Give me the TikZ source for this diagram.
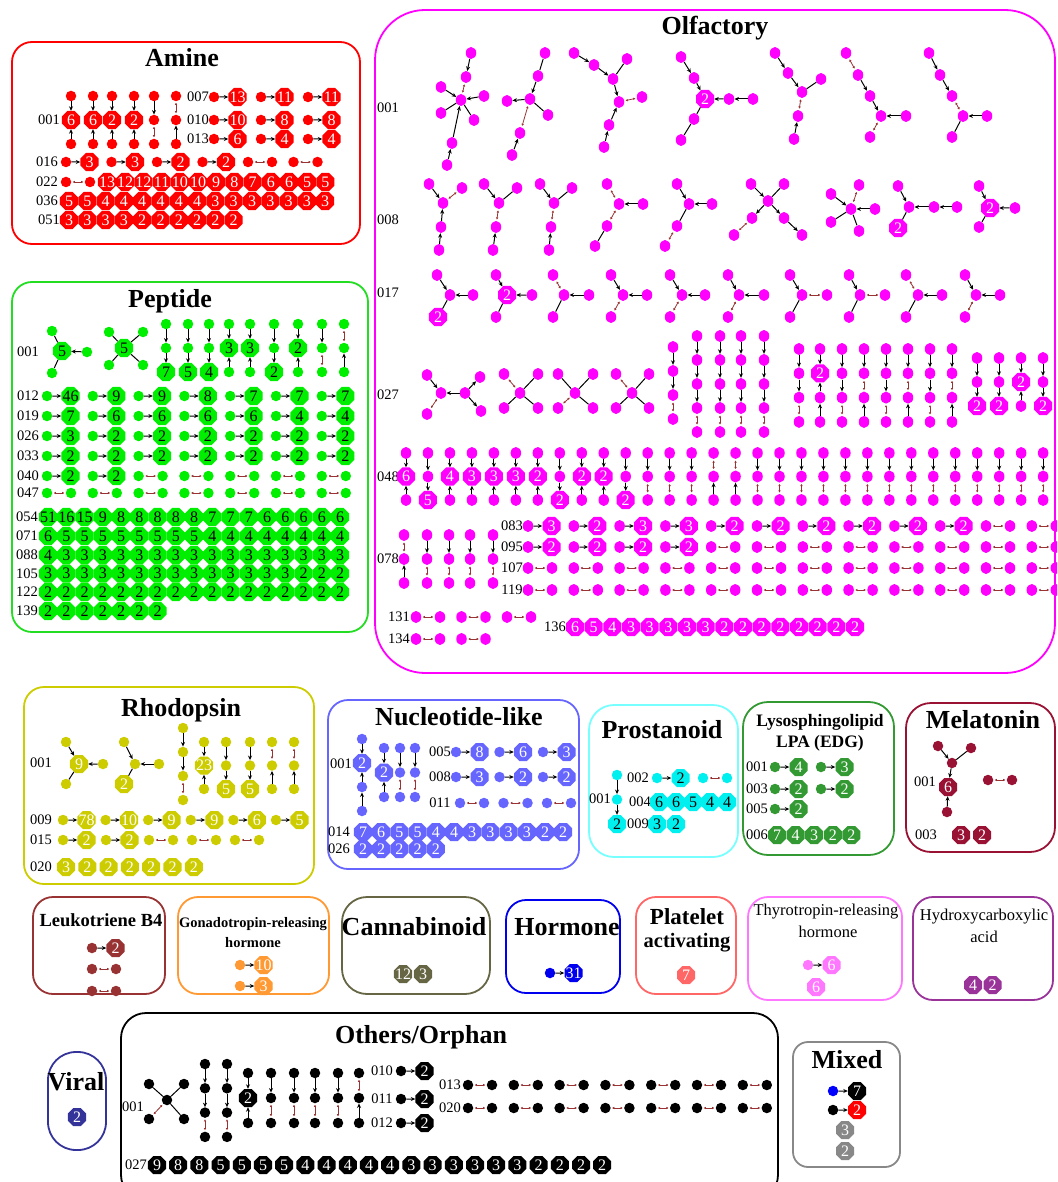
\documentclass[tikz,border=0pt]{standalone}
\usepackage{fontspec}
\setmainfont{Liberation Serif}
\usetikzlibrary{shapes.geometric,arrows.meta}
\definecolor{cAmi}{HTML}{FF0000}
\definecolor{cPep}{HTML}{00EE00}
\definecolor{bPep}{HTML}{22DD22}
\definecolor{cOlf}{HTML}{FF00FF}
\definecolor{cRho}{HTML}{CCCC00}
\definecolor{cNuc}{HTML}{6666FF}
\definecolor{cPro}{HTML}{00F0F0}
\definecolor{bPro}{HTML}{77FFFF}
\definecolor{cLPA}{HTML}{339933}
\definecolor{cMel}{HTML}{991133}
\definecolor{cLeu}{HTML}{993333}
\definecolor{cGon}{HTML}{FF9933}
\definecolor{cCan}{HTML}{666644}
\definecolor{cHor}{HTML}{0000EE}
\definecolor{cPla}{HTML}{FF6666}
\definecolor{cThy}{HTML}{FF77FF}
\definecolor{cHyd}{HTML}{993399}
\definecolor{cVir}{HTML}{333399}
\definecolor{cMix}{HTML}{888888}
\definecolor{rdc}{HTML}{993333}
\colorlet{gc}{black}
\colorlet{tc}{white}
\newcommand\ocfont{\fontsize{16}{16}\selectfont}
\newcommand\nd[4]{\if o#4\node[dt] (#1) at ({#2},{#3}) {};\else\node[oc] (#1) at ({#2},{#3}) {\makebox[0pt]{#4}};\fi}
\newcommand\ed[3]{\if d#1\draw[eb] (#2)--(#3);\fi\if u#1\draw[eb] (#3)--(#2);\fi\if r#1\draw[er] (#2)--(#3);\fi\if l#1\draw[el] (#2)--(#3);\fi}
\newcommand\chain[6]{%
 \foreach \cl [count=\ci] in {#5}{\nd{#1-\ci}{#2}{#3+(\ci-1)*(#4)}{\cl}}%
 \foreach \ce [count=\ci] in {#6}{\pgfmathtruncatemacro\cj{\ci+1}\ed{\ce}{#1-\ci}{#1-\cj}}}
\newcommand\G[3]{\foreach \gn/\gx/\gy/\gl in {#2}{\nd{#1\gn}{\gx}{\gy}{\gl}}\foreach \ga/\gb/\gt in {#3}{\ed{\gt}{#1\ga}{#1\gb}}}
\newcommand\mixrow[5]{%
 \foreach \mv [count=\mi] in {#5}{%
  \pgfmathsetmacro\mx{#2+(\mi-1)*(#4)}%
  \if r\mv
   \node[dt] (#1-\mi a) at (\mx,#3) {};
   \node[dt] (#1-\mi b) at ({\mx+24},#3) {};
   \draw[er] (#1-\mi a) -- (#1-\mi b);
  \else
   \node[dt] (#1-\mi a) at (\mx,#3) {};
   \node[oc] (#1-\mi b) at ({\mx+23.5},#3) {\makebox[0pt]{\mv}};
   \draw[eb] (#1-\mi a) -- (#1-\mi b);
  \fi}}
\newcommand\orow[5]{\foreach \ov [count=\oi] in {#5}{\node[oc] (#1-\oi) at ({#2+(\oi-1)*(#4)},#3) {\makebox[0pt]{\ov}};}}
\newcommand\lab[4]{\node[lb] (#1) at (#2,#3) {#4};}
\begin{document}
\begin{tikzpicture}[x=1pt,y=-1pt,
 dt/.style={circle, fill=gc, inner sep=0pt, minimum size=10.5pt},
 oc/.style={regular polygon, regular polygon sides=8, fill=gc, inner sep=0pt, minimum size=19.5pt, text=tc, font=\ocfont},
 eb/.style={-{Stealth[length=4.5pt,width=4pt]}, line width=1pt, black},
 el/.style={line width=1pt, black},
 er/.style={{Latex[length=2.2pt,width=2.6pt]}-{Latex[length=2.2pt,width=2.6pt]}, line width=0.8pt, rdc, shorten <=1.2pt, shorten >=1.2pt},
 lb/.style={font=\fontsize{14.5}{15}\selectfont, inner sep=0pt},
 tt/.style={font=\fontsize{26}{28}\selectfont\bfseries, inner sep=0pt},
 bx/.style={draw=#1, line width=1.8pt, rounded corners=20pt}]
\useasboundingbox (0,0) rectangle (1057,1182);
\clip (0,0) rectangle (1057,1182);

% ---------------- AMINE
\begin{scope}
\colorlet{gc}{cAmi}\colorlet{tc}{white}
\draw[bx=cAmi] (12,42) rectangle (360,244);
\node[tt] (tAmi) at (182,58) {Amine};
\lab{am001}{49}{120}{001}\lab{am007}{198}{97}{007}\lab{am010}{198}{120}{010}\lab{am013}{198}{139}{013}
\lab{am016}{47}{162}{016}\lab{am022}{47}{182}{022}\lab{am036}{47}{201}{036}\lab{am051}{49}{220}{051}
\chain{amA}{71}{96}{24}{o,6,o}{d,u}
\chain{amB}{93}{96}{24}{o,6,o}{d,u}
\chain{amC}{112}{96}{24}{o,2,o}{d,u}
\chain{amD}{134}{96}{24}{o,2,o}{d,u}
\chain{amE}{154}{96}{24}{o,o,o}{d,r}
\chain{amF}{176}{96}{24}{o,o,o}{r,u}
\mixrow{am7}{214}{97}{47}{13,11,11}
\mixrow{am10}{214}{120}{47}{10,8,8}
\mixrow{am13}{214}{139}{47}{6,4,4}
\mixrow{am16}{66}{162}{45.5}{3,3,2,2,r,r}
\mixrow{am22}{66}{182}{46}{r}
\orow{am22o}{107}{182}{18.2}{13,12,12,11,10,10,9,8,7,6,6,5,5}
\orow{am36}{69}{201}{18.3}{5,5,4,4,4,4,4,4,3,3,3,3,3,3,3}
\orow{am51}{69}{220}{18.3}{3,3,3,3,2,2,2,2,2,2}
\end{scope}

% ---------------- PEPTIDE
\begin{scope}
\colorlet{gc}{cPep}\colorlet{tc}{black}
\draw[bx=bPep] (12,282) rectangle (368,632);
\node[tt] (tPep) at (170,301) {Peptide};
\lab{pp001}{28}{352}{001}\lab{pp012}{28}{396}{012}\lab{pp019}{28}{416}{019}\lab{pp026}{28}{436}{026}
\lab{pp033}{28}{456}{033}\lab{pp040}{28}{476}{040}\lab{pp047}{28}{493}{047}\lab{pp054}{27}{517}{054}
\lab{pp071}{27}{536}{071}\lab{pp088}{27}{555}{088}\lab{pp105}{27}{573.5}{105}\lab{pp122}{27}{592}{122}\lab{pp139}{27}{611}{139}
\G{ppS}{c/62/351/5, a/52/331/o, b/52/373/o, d/87/352/o}{a/c/l, b/c/l, d/c/d}
\G{ppT}{c/124/348/5, a/109/332/o, b/143/332/o, e/109/365/o, f/143/365/o}{a/c/l, b/c/l, e/c/l, f/c/l}
\chain{ppA}{166}{324}{24}{o,o,7}{d,d}
\chain{ppB}{188}{324}{24}{o,o,5}{d,d}
\chain{ppC}{209}{324}{24}{o,o,4}{d,d}
\chain{ppD}{229}{324}{24}{o,3,o}{d,u}
\chain{ppE}{250}{324}{24}{o,3,o}{d,u}
\chain{ppF}{274}{324}{24}{o,o,2}{d,d}
\chain{ppG}{298}{324}{24}{o,2,o}{d,u}
\chain{ppH}{322}{324}{24}{o,o,o}{d,r}
\chain{ppI}{344}{324}{24}{o,o,o}{r,u}
\mixrow{pp12}{47}{396}{45.8}{46,9,9,8,7,7,7}
\mixrow{pp19}{47}{416}{45.8}{7,6,6,6,6,4,4}
\mixrow{pp26}{47}{436}{45.8}{3,2,2,2,2,2,2}
\mixrow{pp33}{47}{456}{45.8}{2,2,2,2,2,2,2}
\mixrow{pp40}{47}{476}{45.8}{2,2,r,r,r,r,r}
\mixrow{pp47}{47}{493}{45.8}{r,r,r,r,r,r,r}
\orow{pp54}{48}{517}{18.25}{51,16,15,9,8,8,8,8,8,7,7,7,6,6,6,6,6}
\orow{pp71}{48}{536}{18.25}{6,5,5,5,5,5,5,5,5,4,4,4,4,4,4,4,4}
\orow{pp88}{48}{555}{18.25}{4,3,3,3,3,3,3,3,3,3,3,3,3,3,3,3,3}
\orow{pp105}{48}{573.5}{18.25}{3,3,3,3,3,3,3,3,3,3,3,3,3,3,2,2,2}
\orow{pp122}{48}{592}{18.25}{2,2,2,2,2,2,2,2,2,2,2,2,2,2,2,2,2}
\orow{pp139}{48}{611}{18.25}{2,2,2,2,2,2,2}
\end{scope}

% ---------------- OLFACTORY
\begin{scope}[dt/.style={ellipse, fill=gc, inner sep=0pt, minimum width=10.5pt, minimum height=12pt}]
\colorlet{gc}{cOlf}\colorlet{tc}{white}
\draw[bx=cOlf, rounded corners=50pt] (375,10) rectangle (1055,673);
\node[tt] (tOlf) at (715,28) {Olfactory};
\lab{ol001}{388}{108}{001}\lab{ol008}{388}{220}{008}\lab{ol017}{388}{293}{017}\lab{ol027}{388}{395}{027}
\lab{ol048}{388}{477}{048}\lab{ol078}{388}{559}{078}\lab{ol083}{512}{526}{083}\lab{ol095}{512}{547}{095}
\lab{ol107}{512}{568}{107}\lab{ol119}{512}{590}{119}\lab{ol131}{399}{617}{131}\lab{ol134}{399}{639}{134}\lab{ol136}{555}{627}{136}
% row 001
\G{olA}{c/461/100/o, n1/471/53/o, n2/466/77/o, n3/441/87/o, n4/484/96/o, n5/441/113/o, n6/474/120/o, n7/452/143/o, n8/447/165/o}
 {n1/n2/d, n2/c/r, n3/c/d, n4/c/d, n5/c/l, n6/c/l, n7/c/d, n8/n7/d}
\G{olB}{c/530/99/o, n1/545/53/o, n2/538/76/o, n3/507/101/o, n4/548/115/o, n5/520/133/o, n6/512/155/o}
 {n1/n2/l, n2/c/d, c/n3/d, n4/c/l, n5/c/r, n6/n5/d}
\G{olC}{n1/574/53/o, n2/594/65/o, c/613/79/o, n3/627/59/o, m/619/102/o, n4/642/97/o, n5/609/125/o, n6/604/147/o}
 {n1/n2/d, n2/c/d, n3/c/l, c/m/d, n4/m/r, n5/m/d, n6/n5/d}
\G{olD}{c/705/99/2, n1/681/57/o, n2/694/78/o, n3/729/99/o, n4/753/99/o, n5/694/119/o, n6/681/140/o}
 {n1/n2/d, n2/c/d, n4/n3/d, n3/c/d, n5/c/l, n6/n5/l}
\G{olE}{n1/775/53/o, n2/788/73/o, c/802/92/o, n3/821/79/o, n4/798/116/o, n5/794/139/o}
 {n1/n2/d, n2/c/d, n3/c/l, n4/c/r, n5/n4/d}
\G{olF}{n1/846/53/o, n2/858/75/o, n3/870/96/o, c/881/116/o, n4/906/116/o, n5/870/137/o}
 {n1/n2/r, n2/n3/d, n3/c/d, n4/c/d, n5/c/r}
\G{olG}{n1/929/53/o, n2/940/75/o, n3/952/96/o, c/963/116/o, n4/987/116/o, n5/952/137/o}
 {n1/n2/d, n2/n3/d, n3/c/r, n4/c/d, n5/c/l}
% row 008
\G{olH}{n1/429/184/o, n2/462/188/o, c/443/203/o, n3/441/227/o, n4/439/250/o}{n1/c/d, n2/c/r, n3/c/d, n4/n3/d}
\G{olI}{n1/484/184/o, n2/517/188/o, c/499/203/o, n3/496/227/o, n4/493/250/o}{n1/c/d, n2/c/l, c/n3/r, n4/n3/d}
\G{olJ}{n1/540/184/o, n2/572/188/o, c/554/203/o, n3/551/227/o, n4/549/250/o}{n1/c/d, n2/c/l, c/n3/r, n4/n3/d}
\G{olK}{n1/607/184/o, c/619/204/o, n2/643/204/o, n3/607/226/o, n4/595/246/o}{n1/c/r, n2/c/d, c/n3/r, n4/n3/l}
\G{olL}{n1/677/184/o, c/689/204/o, n2/712/204/o, n3/677/226/o, n4/665/246/o}{n1/c/d, n2/c/d, c/n3/l, n4/n3/r}
\G{olM}{c/768/201/o, n1/751/184/o, n2/784/184/o, n3/752/218/o, n4/734/235/o, n5/784/218/o, n6/802/235/o}
 {n1/c/d, n2/c/l, c/n3/d, n4/n3/r, c/n5/d, n5/n6/d}
\G{olN}{c/851/209/o, n1/859/185/o, n2/831/194/o, n3/875/209/o, n4/831/222/o, n5/859/231/o}{n1/c/r, n2/c/d, n3/c/d, n4/c/l, n5/c/l}
\G{olO}{n1/898/186/o, c/909/207/o, n2/934/207/o, n3/957/207/o, n4/898/228/2}{n1/c/d, n3/n2/d, n2/c/d, c/n4/l}
\G{olP}{n1/979/186/o, c/990/208/2, n2/1015/208/o, n3/979/227/o}{n1/c/d, n2/c/d, n3/c/l}
% row 017
\G{olQ}{t/437/275/o, c/450/295/o, r/473/295/o, b/438/317/2}{t/c/d, r/c/d, b/c/l}
\G{olR}{t/496/275/o, c/507/295/2, r/532/295/o, b/496/317/o}{t/c/d, r/c/d, b/c/l}
\G{olS}{t/553/275/o, c/564/295/o, r/589/295/o, b/553/317/o}{t/c/r, r/c/d, b/c/l}
\G{olT}{t/611/275/o, c/623/295/o, r/647/295/o, b/611/317/o}{t/c/d, r/c/d, b/c/r}
\G{olU}{t/670/275/o, c/682/295/o, r/705/295/o, b/670/317/o}{t/c/d, r/c/d, b/c/r}
\G{olV}{t/728/275/o, c/739/295/o, r/764/295/o, b/728/317/o}{t/c/d, r/c/d, b/c/r}
\G{olW}{t/790/275/o, c/802/295/o, r/827/295/o, b/790/317/o}{t/c/d, c/r/r, b/c/l}
\G{olX}{t/849/275/o, c/860/295/o, r/885/295/o, b/849/317/o}{t/c/d, c/r/r, b/c/l}
\G{olY}{t/906/275/o, c/918/295/o, r/942/295/o, b/906/317/o}{t/c/r, r/c/d, b/c/l}
\G{olZ}{t/965/275/o, c/976/295/o, r/1000/295/o, b/965/317/o}{t/c/d, r/c/d, b/c/r}
% row 027
\G{olAA}{lc/441/393/o, rc/465/393/o, a/427/375/o, b/427/414/o, e/480/377/o, f/481/411/o}{a/lc/d, lc/b/r, rc/lc/d, rc/e/d, rc/f/d}
\G{olAB}{c/520/393/o, a/504/374/o, b/538/374/o, e/504/408/o, f/538/408/o}{a/c/r, b/c/l, e/c/l, f/c/l}
\G{olAC}{c/575/393/o, a/558/374/o, b/593/374/o, e/558/408/o, f/593/408/o}{a/c/l, b/c/l, e/c/r, f/c/l}
\G{olAD}{c/632/393/o, a/616/374/o, b/649/374/o, e/616/408/o, f/649/408/o}{a/c/r, b/c/l, e/c/l, f/c/l}
\chain{olCa}{673}{347}{24}{o,o,o,o}{d,d,r}
\foreach \x [count=\i] in {697,720,741,764}{\chain{olCb\i}{\x}{336}{24}{o,o,o,o,o}{d,d,d,r}}
\chain{olBa}{799}{349}{24.3}{o,o,o,o}{d,d,r}
\chain{olBb}{820}{349}{24.3}{o,2,o,o}{d,u,u}
\chain{olBc}{842}{349}{24.3}{o,o,o,o}{d,d,r}
\chain{olBd}{864}{349}{24.3}{o,o,o,o}{d,r,u}
\chain{olBe}{886}{349}{24.3}{o,o,o,o}{d,d,r}
\chain{olBf}{908}{349}{24.3}{o,o,o,o}{d,r,u}
\chain{olBg}{930}{349}{24.3}{o,o,o,o}{d,d,r}
\chain{olBh}{952}{349}{24.3}{o,o,o,o}{d,r,u}
\chain{olDa}{977}{358}{24}{o,o,2}{d,d}
\chain{olDb}{999}{358}{24}{o,o,2}{d,d}
\chain{olDc}{1021}{358}{24}{o,2,o}{d,u}
\chain{olDd}{1043}{358}{24}{o,o,2}{d,d}
% row 048
\foreach \la/\lb/\lc/\ea/\eb [count=\i] in {o/6/o/d/u, o/o/5/d/d, o/4/o/d/u, o/3/o/d/u, o/3/o/d/u, o/3/o/d/u, o/2/o/d/u, o/o/2/d/d, o/2/o/d/u, o/2/o/d/u, o/o/2/d/d, o/o/o/d/r, o/o/o/d/r, o/o/o/d/r, o/o/o/r/u, o/o/o/r/u, o/o/o/d/r, o/o/o/d/r, o/o/o/d/r, o/o/o/d/r, o/o/o/d/r, o/o/o/d/r, o/o/o/d/r, o/o/o/d/r, o/o/o/d/r, o/o/o/d/r, o/o/o/d/r, o/o/o/d/r, o/o/o/d/r, o/o/o/d/r}
 {\chain{olE\i}{406+(\i-1)*21.97}{453}{23.5}{\la,\lb,\lc}{\ea,\eb}}
% row 078
\chain{olG0}{404}{535}{24}{o,o,o}{r,u}
\foreach \x [count=\i] in {427,449,470,493}{\chain{olG\i}{\x}{535}{24}{o,o,o}{d,r}}
\mixrow{olR83}{528}{526}{45.8}{3,2,3,3,2,2,2,2,2,2,r,r}
\mixrow{olR95}{528}{547}{45.8}{2,2,2,2,r,r,r,r,r,r,r,r}
\mixrow{olR107}{528}{568}{45.8}{r,r,r,r,r,r,r,r,r,r,r,r}
\mixrow{olR119}{528}{590}{45.8}{r,r,r,r,r,r,r,r,r,r,r,r}
\mixrow{olR131}{416}{617}{45.5}{r,r,r}
\mixrow{olR134}{416}{639}{45.5}{r,r}
\orow{olR136}{575}{627}{18.67}{6,5,4,3,3,3,3,3,2,2,2,2,2,2,2,2}
\end{scope}

% ---------------- RHODOPSIN
\begin{scope}
\colorlet{gc}{cRho}\colorlet{tc}{white}
\draw[bx=cRho] (24,687) rectangle (314,884);
\node[tt] (tRho) at (181,710) {Rhodopsin};
\lab{rh001}{41}{763}{001}\lab{rh009}{41}{820}{009}\lab{rh015}{41}{840}{015}\lab{rh020}{41}{867}{020}
\G{rhA}{c/79/764/9, a/66/742/o, b/103/764/o, e/66/784/o}{a/c/d, b/c/d, e/c/l}
\G{rhB}{c/135/764/o, a/124/742/o, b/159/764/o, e/124/784/2}{a/c/d, b/c/d, c/e/l}
\chain{rhC}{183}{728}{24}{o,o,o,o}{d,d,r}
\chain{rhD}{204}{742}{23.5}{o,23,o}{d,u}
\chain{rhE}{226}{742}{23.5}{o,o,5}{d,d}
\chain{rhF}{250}{742}{23.5}{o,o,5}{d,d}
\chain{rhG}{272}{742}{23.5}{o,o,o}{r,u}
\chain{rhH}{294}{742}{23.5}{o,o,o}{r,u}
\mixrow{rh9}{63}{820}{42.6}{78,10,9,9,6,5}
\mixrow{rh15}{63}{840}{43}{2,2,r,r,r}
\orow{rh20}{66}{867}{21.3}{3,2,2,2,2,2,2}
\end{scope}

% ---------------- NUCLEOTIDE-LIKE
\begin{scope}
\colorlet{gc}{cNuc}\colorlet{tc}{white}
\draw[bx=cNuc] (328,700) rectangle (579,869);
\node[tt] (tNuc) at (459,717) {Nucleotide-like};
\lab{nu001}{341}{764}{001}\lab{nu005}{440}{752}{005}\lab{nu008}{440}{777}{008}\lab{nu011}{440}{803}{011}
\lab{nu014}{339}{832}{014}\lab{nu026}{339}{849}{026}
\chain{nuA}{362}{739}{24}{o,2,o,o}{d,u,u}
\chain{nuB}{384}{748}{24.5}{o,2,o}{d,u}
\chain{nuC}{400}{748}{24.5}{o,o,o}{d,r}
\chain{nuD}{415}{748}{24.5}{o,o,o}{d,r}
\mixrow{nu5}{456}{752}{43.5}{8,6,3}
\mixrow{nu8}{456}{777}{43.5}{3,2,2}
\mixrow{nu11}{460}{803}{43.5}{r,r,r}
\orow{nu14}{363}{832}{18.2}{7,6,5,5,4,4,3,3,3,3,2,2}
\orow{nu26}{363}{849}{18.2}{2,2,2,2,2}
\end{scope}

% ---------------- PROSTANOID
\begin{scope}
\colorlet{gc}{cPro}\colorlet{tc}{black}
\draw[bx=bPro, rounded corners=25pt] (589,705) rectangle (738,857);
\node[tt] (tPro) at (662,730) {Prostanoid};
\lab{pr001}{600}{799}{001}\lab{pr002}{638}{778}{002}\lab{pr004}{640}{802}{004}\lab{pr009}{638}{824}{009}
\chain{prA}{617}{775}{24.5}{o,o,2}{d,d}
\mixrow{pr2}{657}{778}{46}{2,r}
\orow{pr4}{659}{802}{17}{6,6,5,4,4}
\orow{pr9}{657}{824}{19}{3,2}
\end{scope}

% ---------------- LPA
\begin{scope}
\colorlet{gc}{cLPA}\colorlet{tc}{white}
\draw[bx=cLPA, rounded corners=25pt] (743,702) rectangle (894,855);
\node[font=\fontsize{17.5}{19}\selectfont\bfseries, inner sep=0pt] (tLPA1) at (820,722) {Lysosphingolipid};
\node[font=\fontsize{17.5}{19}\selectfont\bfseries, inner sep=0pt] (tLPA2) at (820,743) {LPA (EDG)};
\lab{lp001}{757}{767}{001}\lab{lp003}{757}{789}{003}\lab{lp005}{757}{809}{005}\lab{lp006}{757}{835}{006}
\mixrow{lp1}{775}{767}{46}{4,3}
\mixrow{lp3}{775}{789}{46}{2,2}
\mixrow{lp5}{775}{809}{46}{2}
\orow{lp6}{777}{835}{18.6}{7,4,3,2,2}
\end{scope}

% ---------------- MELATONIN
\begin{scope}
\colorlet{gc}{cMel}\colorlet{tc}{white}
\draw[bx=cMel, rounded corners=25pt] (906,703) rectangle (1055,852);
\node[tt] (tMel) at (983,720) {Melatonin};
\lab{me001}{925}{782}{001}\lab{me003}{926}{835}{003}
\G{meA}{a/938/746/o, b/971/748/o, c/952/763/o, d/948/787/6, e/947/812/o}{a/c/d, b/c/l, c/d/d, e/d/d}
\mixrow{me2}{988}{780}{46}{r}
\orow{me3}{961}{835}{21}{3,2}
\end{scope}

% ---------------- SMALL FAMILIES
\begin{scope}
\colorlet{gc}{cLeu}\colorlet{tc}{white}
\draw[bx=cLeu] (33,897) rectangle (165,994);
\node[font=\fontsize{18.5}{20}\selectfont\bfseries, inner sep=0pt] (tLeu) at (101,920) {Leukotriene B4};
\mixrow{lk1}{92}{948}{40}{2}
\mixrow{lk2}{92}{969}{40}{r}
\mixrow{lk3}{92}{991}{40}{r}
\end{scope}
\begin{scope}
\colorlet{gc}{cGon}\colorlet{tc}{white}
\draw[bx=cGon] (178,897) rectangle (329,994);
\node[font=\fontsize{14.5}{16}\selectfont\bfseries, inner sep=0pt] (tGon1) at (253,924) {Gonadotropin-releasing};
\node[font=\fontsize{14.5}{16}\selectfont\bfseries, inner sep=0pt] (tGon2) at (253,943) {hormone};
\mixrow{gn1}{240}{965}{40}{10}
\mixrow{gn2}{240}{986}{40}{3}
\end{scope}
\begin{scope}
\colorlet{gc}{cCan}\colorlet{tc}{white}
\draw[bx=cCan, rounded corners=25pt] (342,897) rectangle (490,994);
\node[tt] (tCan) at (414,927) {Cannabinoid};
\orow{cn}{403}{974}{20}{12,3}
\end{scope}
\begin{scope}
\colorlet{gc}{cHor}\colorlet{tc}{white}
\draw[bx=cHor] (506,900) rectangle (620,993);
\node[tt] (tHor) at (567,927) {Hormone};
\mixrow{hm}{550}{973}{40}{31}
\end{scope}
\begin{scope}
\colorlet{gc}{cPla}\colorlet{tc}{white}
\draw[bx=cPla] (636,897) rectangle (736,994);
\node[font=\fontsize{23}{24}\selectfont\bfseries, inner sep=0pt] (tPla1) at (687,917) {Platelet};
\node[font=\fontsize{20.5}{22}\selectfont\bfseries, inner sep=0pt] (tPla2) at (687,943) {activating};
\orow{pl}{686}{975}{20}{7}
\end{scope}
\begin{scope}
\colorlet{gc}{cThy}\colorlet{tc}{white}
\draw[bx=cThy] (748,897) rectangle (902,1000);
\node[font=\fontsize{16.5}{18}\selectfont, inner sep=0pt] (tThy1) at (826,912) {Thyrotropin-releasing};
\node[font=\fontsize{16.5}{18}\selectfont, inner sep=0pt] (tThy2) at (828,932) {hormone};
\mixrow{th1}{808}{965}{40}{6}
\nd{th2}{816}{987}{6}
\end{scope}
\begin{scope}
\colorlet{gc}{cHyd}\colorlet{tc}{white}
\draw[bx=cHyd] (913,897) rectangle (1053,1000);
\node[font=\fontsize{16.5}{18}\selectfont, inner sep=0pt] (tHyd1) at (984,917) {Hydroxycarboxylic};
\node[font=\fontsize{16.5}{18}\selectfont, inner sep=0pt] (tHyd2) at (984,937) {acid};
\orow{hy}{973}{985}{19.5}{4,2}
\end{scope}

% ---------------- VIRAL
\begin{scope}
\colorlet{gc}{cVir}\colorlet{tc}{white}
\draw[bx=cVir, rounded corners=28pt] (48,1052) rectangle (106,1150);
\node[tt] (tVir) at (76,1082) {Viral};
\nd{vi1}{77}{1117}{2}
\end{scope}

% ---------------- OTHERS / ORPHAN
\begin{scope}
\colorlet{gc}{black}\colorlet{tc}{white}
\draw[bx=black, rounded corners=25pt] (121,1013) rectangle (778,1200);
\node[tt] (tOth) at (421,1037) {Others/Orphan};
\lab{ot001}{133}{1107}{001}\lab{ot010}{382}{1071}{010}\lab{ot011}{382}{1099}{011}\lab{ot012}{382}{1123}{012}
\lab{ot013}{450}{1085}{013}\lab{ot020}{450}{1108}{020}\lab{ot027}{136}{1165}{027}
\G{otX}{c/167/1100/o, a/149/1084/o, b/184/1084/o, e/149/1119/o, f/184/1119/o}{a/c/l, b/c/l, c/e/r, c/f/l}
\chain{otA}{205}{1064}{24.3}{o,o,o,o}{d,d,r}
\chain{otB}{227}{1064}{24.3}{o,o,o,o}{d,d,r}
\chain{otC}{248}{1073}{25}{o,2,o}{d,u}
\foreach \x [count=\i] in {271,294,315,338}{\chain{otD\i}{\x}{1073}{25}{o,o,o}{d,r}}
\chain{otE}{359}{1073}{25}{o,o,o}{r,u}
\mixrow{ot10}{401}{1071}{40}{2}
\mixrow{ot11}{401}{1099}{40}{2}
\mixrow{ot12}{401}{1123}{40}{2}
\mixrow{ot13}{468}{1085}{45.8}{r,r,r,r,r,r,r}
\mixrow{ot20}{468}{1108}{45.8}{r,r,r,r,r,r,r}
\orow{ot27}{157}{1165}{21.2}{9,8,8,5,5,5,5,4,4,4,4,4,3,3,3,3,3,3,2,2,2,2}
\end{scope}

% ---------------- MIXED
\begin{scope}
\colorlet{tc}{white}
\draw[bx=cMix, rounded corners=15pt] (793,1042) rectangle (900,1167);
\node[tt] (tMix) at (847,1060) {Mixed};
\node[dt, fill=blue] (mx1a) at (833,1091) {};
\node[oc, fill=black] (mx1b) at (857,1091) {\makebox[0pt]{7}};
\draw[eb] (mx1a) -- (mx1b);
\node[dt, fill=black] (mx2a) at (833,1110) {};
\node[oc, fill=red] (mx2b) at (857,1110) {\makebox[0pt]{2}};
\draw[eb] (mx2a) -- (mx2b);
\node[oc, fill=cMix] (mx3) at (845,1130) {\makebox[0pt]{3}};
\node[oc, fill=cMix] (mx4) at (845,1151) {\makebox[0pt]{2}};
\end{scope}
\end{tikzpicture}
\end{document}
